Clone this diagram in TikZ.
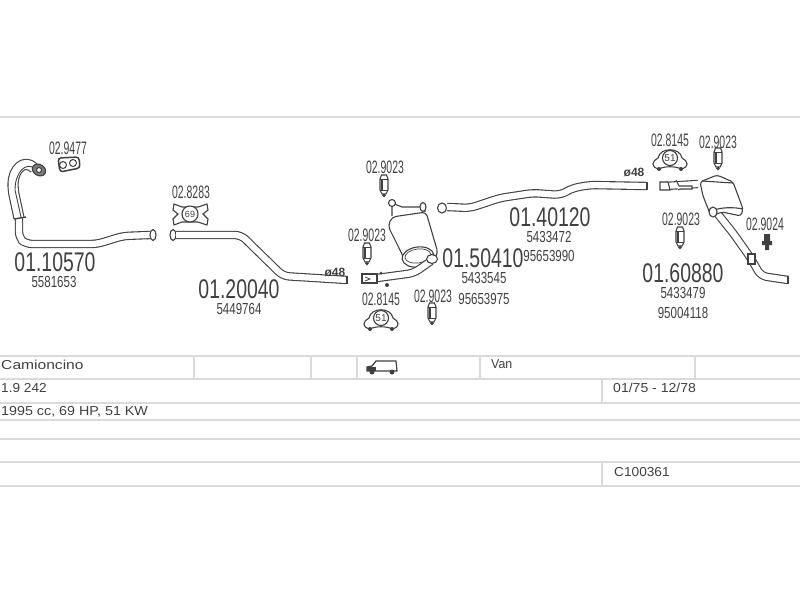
\documentclass[tikz,border=0pt]{standalone}
\usepackage{fontspec}
\setmainfont{Liberation Sans}
\usepackage{xcolor}
\usetikzlibrary{positioning,arrows.meta,shapes.geometric}
\definecolor{inkgray}{HTML}{404040}
\definecolor{rulegray}{HTML}{DADADA}

\begin{document}
\begin{tikzpicture}[
  x=1pt, y=-1pt,
  partno/.style={font=\fontsize{27}{27}\selectfont, text=inkgray, inner sep=0pt, xscale=0.72, transform shape},
  refno/.style={font=\fontsize{16}{16}\selectfont, text=inkgray, inner sep=0pt, xscale=0.72, transform shape},
  kitno/.style={font=\fontsize{18}{18}\selectfont, text=inkgray, inner sep=0pt, xscale=0.58, transform shape},
  dia/.style={font=\bfseries\fontsize{12}{12}\selectfont, text=inkgray, inner sep=0pt},
  cell/.style={font=\fontsize{13}{13}\selectfont, text=inkgray, inner sep=0pt, anchor=west, xscale=1.0, transform shape},
  rulerow/.style={draw=rulegray, line width=2pt},
  rulecol/.style={draw=rulegray, line width=1.2pt},
  pipe/.style={draw=inkgray, double=white, double distance=6.2pt, line width=1.1pt, line join=round, rounded corners=6pt},
  widepipe/.style={pipe, double distance=9pt},
  part/.style={draw=inkgray, line width=1.1pt, fill=white},
  pics/bolt/.style={code={
    \draw[part] (-2.5,-10) -- (2.5,-10) -- (4,-6) -- (4,5) -- (2,9) -- (-2,9) -- (-4,5) -- (-4,-6) -- cycle;
    \draw[draw=inkgray, line width=1.8pt] (-2,-5) -- (-2,5);
    \draw[draw=inkgray, line width=.8pt] (-4,5) -- (4,5) (-4,-6) -- (4,-6);
    \fill[inkgray] (0,10.5) circle (1.8);
  }},
  pics/clamp/.style={code={
    \draw[part] (-11,10) .. controls (-20,8) and (-18,2) .. (-12,-1)
      .. controls (-10,-12) and (10,-12) .. (12,-1)
      .. controls (18,2) and (20,8) .. (11,10)
      .. controls (6,7) and (-6,7) .. (-11,10) -- cycle;
    \draw[part] (0,-1) circle (7.5);
    \node[inner sep=0pt, text=inkgray, font=\fontsize{10}{10}\selectfont] (clamp#1) at (0,-1) {#1};
    \fill[inkgray] (-11,10) circle (2) (11,10) circle (2);
  }}
]
\useasboundingbox (0,0) rectangle (800,600);

% Table rules
\draw[rulerow] (0,117) -- (800,117);
\draw[rulerow] (0,356) -- (800,356);
\draw[rulerow] (0,379) -- (800,379);
\draw[rulerow] (0,403) -- (800,403);
\draw[rulerow] (0,420) -- (800,420);
\draw[rulerow] (0,439) -- (800,439);
\draw[rulerow] (0,462) -- (800,462);
\draw[rulerow] (0,486) -- (800,486);
\draw[rulecol] (194,356) -- (194,379);
\draw[rulecol] (311,356) -- (311,379);
\draw[rulecol] (357,356) -- (357,379);
\draw[rulecol] (480,356) -- (480,379);
\draw[rulecol] (695,356) -- (695,379);
\draw[rulecol] (602,379) -- (602,403);
\draw[rulecol] (602,462) -- (602,486);

% Table text
\node[cell, xscale=1.2] (bodytype) at (1,365) {Camioncino};
\node[cell, xscale=0.95] (bodyvan) at (491,364) {Van};
\node[cell, xscale=1.05] (engine) at (1,388) {1.9 242};
\node[cell, xscale=1.08] (years) at (613,388) {01/75 - 12/78};
\node[cell, xscale=1.1] (power) at (1,412) {1995 cc, 69 HP, 51 KW};
\node[cell, xscale=1.05] (code) at (614,472) {C100361};

% Van icon
\draw[part, line width=1.2pt] (367,371) -- (367,367) -- (372,366) -- (376,361) -- (396,361) -- (397,371) -- cycle;
\fill[inkgray] (367,367) rectangle (376,371);
\fill[inkgray] (372,372) circle (2.5) (392,372) circle (2.5);

% Front pipe
\draw[pipe] (19,218) -- (19,238) -- (26,244) -- (97,244) -- (123,236) -- (150,235);
\draw[widepipe] (34,168) .. controls (24,158) and (13,170) .. (13,190) -- (19,218);
\draw[draw=inkgray, line width=.9pt] (34,168) .. controls (26,162) and (15,172) .. (15,190) -- (21,217);
\draw[draw=inkgray, line width=1.4pt] (14,219) -- (26,217);
\draw[part, rotate around={-30:(39,170)}, fill=inkgray!70] (39,170) ellipse (7 and 5.5);
\draw[draw=inkgray, line width=1pt, fill=white] (39,170) circle (2.5);
\draw[part] (153,235) ellipse (3 and 5.5);
\node[partno] (p10570) at (55,262) {01.10570};
\node[refno] (r5581653) at (54,282) {5581653};

% Gasket at the manifold
\node[kitno] (k9477) at (68,148) {02.9477};
\draw[part, line width=1.5pt, rounded corners=3pt] (58,158) -- (79,157) -- (80,168) -- (60,172) -- cycle;
\draw[draw=inkgray, line width=1pt] (63,165) circle (3.5) (73,163) circle (3.5);

% Middle pipe
\draw[part] (173,235) ellipse (3 and 5.5);
\draw[pipe] (176,235) -- (241,235) -- (283,276) -- (347,280);
\draw[draw=inkgray, line width=1.1pt] (347,276) -- (347,284);
\node[partno] (p20040) at (239,289) {01.20040};
\node[refno] (r5449764) at (239,309) {5449764};
\node[dia] (dia48a) at (335,272) {ø48};

% Clamp 69
\node[kitno] (k8283) at (191,192) {02.8283};
\draw[part] (174,204) -- (182,207) -- (198,207) -- (207,204) -- (208,210) -- (203,214) -- (208,219) -- (207,225) -- (198,222) -- (182,222) -- (174,225) -- (173,219) -- (178,214) -- (173,210) -- cycle;
\draw[part] (190,214) circle (8);
\node[inner sep=0pt, text=inkgray, font=\fontsize{9}{9}\selectfont] (clamp69) at (190,214) {69};

% Front silencer
\draw[part, rounded corners=4pt] (388,226) -- (392,217) -- (426,212) -- (438,253) -- (430,266) -- (407,265) -- (400,250) -- cycle;
\draw[part] (392,216) -- (392,205) (425,212) -- (423,205);
\draw[draw=inkgray, line width=1.1pt] (392,203) -- (402,207) -- (420,207);
\draw[part] (392,203) circle (3.5);
\draw[part] (423,207) ellipse (3 and 4.5);
\draw[draw=inkgray, line width=1.1pt, fill=white, rotate around={8:(418,257)}] (418,257) ellipse (16 and 10);
\draw[draw=inkgray, line width=.7pt, rotate around={8:(418,257)}] (418,256) ellipse (13 and 7);
\draw[pipe] (431,261) -- (414,273) -- (377,278);
\draw[part] (432,259) ellipse (5.5 and 4.5);
\draw[part] (362,274) rectangle (377,283);
\draw[draw=inkgray, line width=.8pt] (365,277) -- (370,279) -- (365,281);
\fill[inkgray] (381,273) circle (1.5) (387,285) circle (2);
\node[partno] (p50410) at (483,258) {01.50410};
\node[refno] (r5433545) at (484,278) {5433545};
\node[refno] (r95653975) at (484,299) {95653975};

% Hardware round the front silencer
\node[kitno] (k9023a) at (385,167) {02.9023};
\pic at (384,185) {bolt};
\node[kitno] (k9023b) at (367,235) {02.9023};
\pic at (367,253) {bolt};
\node[kitno] (k9023c) at (433,296) {02.9023};
\pic at (432,313) {bolt};
\node[kitno] (k8145a) at (381,299) {02.8145};
\pic at (381,319) {clamp=51};

% Rear middle pipe
\draw[part] (442,208) ellipse (4.5 and 5);
\draw[pipe] (447,207) -- (470,208) -- (500,198) -- (533,193) -- (560,195) -- (573,188) -- (590,185) -- (647,186);
\draw[draw=inkgray, line width=1.1pt] (647,182) -- (647,190);
\node[partno] (p40120) at (550,217) {01.40120};
\node[refno] (r5433472) at (549,237) {5433472};
\node[refno] (r95653990) at (549,256) {95653990};
\node[dia] (dia48b) at (634,172) {ø48};

% Rear silencer
\draw[pipe] (717,213) -- (733,233) -- (750,257) -- (761,276) -- (788,280);
\draw[draw=inkgray, line width=1.1pt] (788,276) -- (788,284);
\draw[part, line width=1.4pt] (748,254) rectangle (755,264);
\draw[pipe, rounded corners=0pt] (665,186) -- (698,184);
\draw[part] (660,182) -- (668,182) -- (670,190) -- (660,190) -- cycle;
\draw[part] (676,180) -- (679,186) -- (692,186) -- (692,189) -- (680,189) -- (678,190);
\draw[part, rounded corners=3pt] (700,182) -- (717,175) -- (733,182) -- (743,209) -- (741,216) -- (722,212) -- (711,216) -- (703,196) -- cycle;
\draw[draw=inkgray, line width=1.1pt] (702,181) -- (733,183);
\draw[draw=inkgray, line width=1.1pt] (712,211) .. controls (720,207) and (734,207) .. (743,209);
\draw[part] (713,212) ellipse (4 and 5);
\node[partno] (p60880) at (683,273) {01.60880};
\node[refno] (r5433479) at (683,293) {5433479};
\node[refno] (r95004118) at (683,313) {95004118};

% Hardware round the rear silencer
\node[kitno] (k8145b) at (670,140) {02.8145};
\pic at (670,159) {clamp=51};
\node[kitno] (k9023d) at (718,142) {02.9023};
\pic at (718,158) {bolt};
\node[kitno] (k9023e) at (681,219) {02.9023};
\pic at (680,237) {bolt};
\node[kitno] (k9024) at (765,224) {02.9024};
\fill[inkgray] (764,234) rectangle (770,241) (762,241) rectangle (772,245) (765,245) rectangle (769,250);

\end{tikzpicture}
\end{document}
